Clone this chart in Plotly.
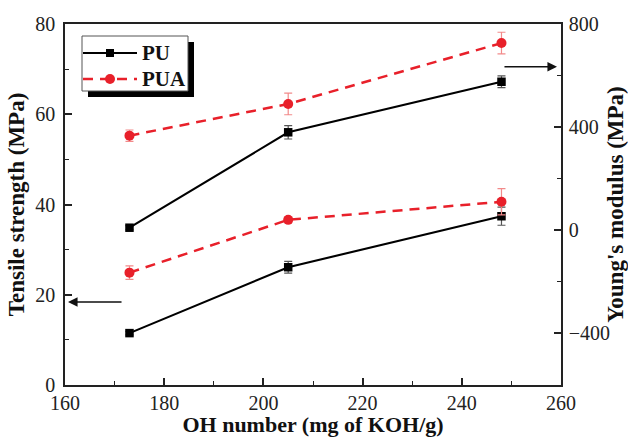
import plotly.graph_objects as go

# ---- data ----
oh_number = [173, 205, 248]

pu_tensile = [11.5, 26.1, 37.4]
pu_tensile_err = [0.4, 1.3, 2.0]
pua_tensile = [24.9, 36.6, 40.6]
pua_tensile_err = [1.5, 0.6, 2.9]

pu_modulus = [10, 380, 576]
pu_modulus_err = [8, 26, 23]
pua_modulus = [367, 490, 726]
pua_modulus_err = [22, 42, 42]

x_ticks = [160, 180, 200, 220, 240, 260]
left_ticks = [0, 20, 40, 60, 80]
right_ticks = [-400, 0, 400, 800]

series_names = ["PU", "PUA"]

FONT = "Liberation Serif"
BLACK = "#000000"
RED = "#e8202a"
RED_ERR = "#f28a8a"
GRAY_ERR = "#555555"
DASH = "10px,7px"

W, H = 628, 437
ML, MR, MT, MB = 65, 67, 24, 52
PW, PH = W - ML - MR, H - MT - MB


def px(xpix):
    return (xpix - ML) / PW


def py(ypix):
    return (H - MB - ypix) / PH


fig = go.Figure()


def add(x, y, err, color, errcolor, dash, symbol, name, axis):
    fig.add_trace(go.Scatter(
        x=x, y=y, name=name, yaxis=axis, mode="lines+markers", showlegend=False,
        line=dict(color=color, width=2.1 if dash == "solid" else 2.5, dash=dash),
        marker=dict(symbol=symbol, size=10 if symbol == "circle" else 8.5, color=color),
        error_y=dict(type="data", array=err, color=errcolor, thickness=1.2, width=4),
    ))


add(oh_number, pu_tensile, pu_tensile_err, BLACK, GRAY_ERR, "solid", "square", "PU", "y")
add(oh_number, pua_tensile, pua_tensile_err, RED, RED_ERR, DASH, "circle", "PUA", "y")
add(oh_number, pu_modulus, pu_modulus_err, BLACK, GRAY_ERR, "solid", "square", "PU", "y2")
add(oh_number, pua_modulus, pua_modulus_err, RED, RED_ERR, DASH, "circle", "PUA", "y2")

tickfont = dict(family=FONT, size=20, color="#222")
ytitlefont = dict(family=FONT, size=23, color="#111", weight="bold")
xtitlefont = dict(family=FONT, size=22, color="#111", weight="bold")

axis_common = dict(
    ticks="inside", ticklen=7, tickwidth=1.5, tickcolor="#222",
    showline=True, linecolor="#222", linewidth=1.6, automargin=False,
    showgrid=False, zeroline=False, tickfont=tickfont,
)

fig.update_layout(
    width=W, height=H,
    margin=dict(l=ML, r=MR, t=MT, b=MB),
    plot_bgcolor="white", paper_bgcolor="white",
    font=dict(family=FONT),
    showlegend=False,
    xaxis=dict(
        range=[160, 260], tickvals=x_ticks, mirror=True, ticklabelstandoff=-1,
        minor=dict(dtick=10, ticks="inside", ticklen=4, tickcolor="#222", tickwidth=1.2),
        title=dict(text="OH number (mg of KOH/g)", font=xtitlefont, standoff=5),
        **axis_common,
    ),
    yaxis=dict(
        range=[0, 80], tickvals=left_ticks, ticklabelstandoff=4,
        minor=dict(dtick=10, ticks="inside", ticklen=4, tickcolor="#222", tickwidth=1.2),
        title=dict(text="Tensile strength (MPa)", font=ytitlefont, standoff=4),
        **axis_common,
    ),
    yaxis2=dict(
        overlaying="y", side="right", ticklabelstandoff=2,
        range=[-600, 800], tickvals=right_ticks,
        minor=dict(dtick=200, ticks="inside", ticklen=4, tickcolor="#222", tickwidth=1.2),
        title=dict(text="Young's modulus (MPa)", font=ytitlefont, standoff=2),
        **axis_common,
    ),
)

# ---- manual legend (box with drop shadow) ----
box = dict(x0=82, x1=188, y0=36, y1=91)
sh = 6
fig.add_shape(type="rect", xref="paper", yref="paper",
              x0=px(box["x0"] + sh), x1=px(box["x1"] + sh),
              y0=py(box["y1"] + sh), y1=py(box["y0"] + sh),
              fillcolor="black", line=dict(width=0), layer="above")
fig.add_shape(type="rect", xref="paper", yref="paper",
              x0=px(box["x0"]), x1=px(box["x1"]), y0=py(box["y1"]), y1=py(box["y0"]),
              fillcolor="white", line=dict(color="#555", width=1), layer="above")
rows = [53, 79]
styles = [(BLACK, "solid", "square"), (RED, DASH, "circle")]
for name, yrow, (col, dash, sym) in zip(series_names, rows, styles):
    fig.add_shape(type="line", xref="paper", yref="paper",
                  x0=px(83), x1=px(137), y0=py(yrow), y1=py(yrow),
                  line=dict(color=col, width=2.1 if dash == "solid" else 2.5, dash=dash), layer="above")
    if sym == "square":
        fig.add_shape(type="rect", xref="paper", yref="paper",
                      x0=px(106), x1=px(114), y0=py(yrow + 4), y1=py(yrow - 4),
                      fillcolor=col, line=dict(width=0), layer="above")
    else:
        fig.add_shape(type="circle", xref="paper", yref="paper",
                      x0=px(105), x1=px(115), y0=py(yrow + 5), y1=py(yrow - 5),
                      fillcolor=col, line=dict(width=0), layer="above")
    fig.add_annotation(x=px(140), y=py(yrow), xref="paper", yref="paper",
                       xanchor="left", yanchor="middle", showarrow=False, text=name,
                       font=dict(family=FONT, size=21, color="#111", weight="bold"))

# arrows pointing to the relevant axis
fig.add_annotation(x=160.6, y=18.4, ax=171.7, ay=18.4, xref="x", yref="y", axref="x", ayref="y",
                   showarrow=True, arrowhead=2, arrowsize=1.2, arrowwidth=1.6, arrowcolor="#111", text="")
fig.add_annotation(x=259.2, y=634, ax=248.3, ay=634, xref="x", yref="y2", axref="x", ayref="y2",
                   showarrow=True, arrowhead=2, arrowsize=1.2, arrowwidth=1.6, arrowcolor="#111", text="")

fig.write_html("out.html")
